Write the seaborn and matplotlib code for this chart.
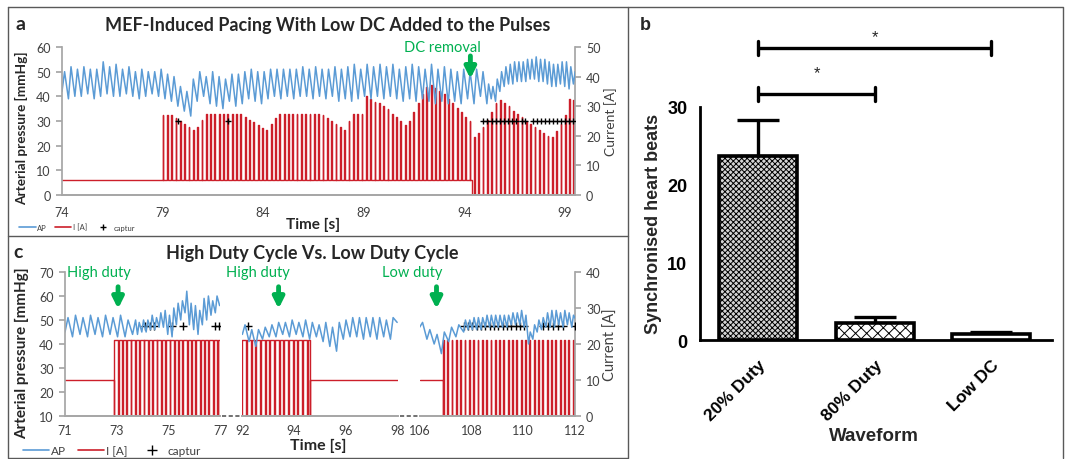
import matplotlib

matplotlib.use("Agg")
import matplotlib.pyplot as plt
import numpy as np
import pandas as pd
import seaborn as sns
from matplotlib.lines import Line2D


W, H = 1068, 460
BLUE = "#5b9bd5"
RED = "#cc1f2a"
GREEN = "#00b050"
GREY_AX = "#a6a6a6"
TXT = "#404040"

# ---- panel a: AP (mmHg) as trough/peak per beat ----
A1_START, A1_PERIOD = 74.0, 0.32
A1_TROUGH = [42, 39, 40, 40, 41, 39, 40, 41, 40, 40, 41, 40, 39, 40, 41, 40, 39, 38, 36, 34,
             32, 38, 40, 37, 36, 35, 38, 36, 37, 39, 38, 37, 39, 40, 39, 40, 39, 40, 40, 39,
             40, 39, 40, 38, 39, 38, 39, 40, 39, 40, 39, 40, 39, 38, 39, 38, 39, 38, 37, 38,
             37, 38, 37, 39, 37, 40]
A1_PEAK = [50, 52, 51, 52, 51, 51, 54, 52, 53, 51, 52, 50, 51, 50, 50, 51, 49, 48, 44, 42,
           47, 50, 48, 50, 48, 47, 49, 49, 50, 51, 50, 50, 51, 51, 51, 51, 51, 52, 51, 52,
           51, 51, 52, 51, 52, 53, 51, 53, 52, 53, 52, 53, 51, 52, 53, 52, 51, 53, 51, 52,
           51, 50, 51, 50, 51, 50]
A2_START, A2_PERIOD = 95.12, 0.215
A2_TROUGH = [37, 39, 38, 42, 44, 45, 45, 46, 46, 46, 47, 47, 46, 46, 45, 44, 44, 45, 44, 43, 45]
A2_PEAK = [45, 44, 47, 50, 52, 53, 54, 54, 54, 55, 55, 56, 55, 55, 54, 53, 53, 54, 54, 52, 50]

# ---- panel a: current pulses (A) ----
PULSE_START, PULSE_PERIOD, PULSE_W = 79.0, 0.215, 0.04
DC_LEVEL, DC_OFF = 5.0, 94.4
DC_AMP = [27, 27, 27, 26, 25, 24, 23, 22, 23, 25.5, 27.5, 27.5, 27.5, 27.5, 27.5, 27.5, 27.5,
          27.5, 27.5, 26.5, 25.5, 24.5, 23.5, 22.5, 22, 24, 26, 27.5, 27.5, 27.5, 27.5, 27.5,
          27.5, 27.5, 27.5, 27.5, 27.5, 27, 26, 25, 24, 23, 22, 25, 27.5, 27.5, 27.5, 33.5,
          32.5, 31.5, 31, 30, 29, 27.5, 26.5, 25, 23.5, 25, 28, 31, 34, 36.5, 37, 36, 35, 34,
          32.5, 31, 29.5, 28, 26.5, 25]
NODC_AMP = [19.5, 21, 23, 25.5, 28, 31, 32, 31, 30, 28.5, 27.5, 26.5, 25, 24, 23, 22, 21, 20,
            19.5, 21.5, 24, 27, 32.5, 32]
CAPTURE_A = [79.75, 82.27, 94.95, 95.15, 95.35, 95.55, 95.75, 95.95, 96.15, 96.35, 96.55,
             96.85, 97.0, 97.4, 97.6, 97.8, 98.0, 98.2, 98.4, 98.6, 98.8, 99.0, 99.2, 99.4]
CAPTURE_LEVEL = 25

# ---- panel c ----
SEGMENTS = [(71, 77), (92, 98), (106, 112)]
SEG_TICKS = [[71, 73, 75, 77], [92, 94, 96, 98], [106, 108, 110, 112]]
C_AP = [
    [(71.0, 0.29, [45, 43, 44, 43, 44, 43, 44, 43, 43, 44], [51, 52, 51, 52, 51, 52, 51, 52, 50, 50], None),
     (73.8, 0.167, [44, 45, 45, 46, 46, 47, 47, 44, 43, 48, 50, 53, 48, 46, 44, 48, 50, 52, 53],
      [49, 50, 50, 52, 51, 53, 54, 52, 55, 57, 58, 62, 57, 56, 54, 59, 60, 58, 60], 56)],
    [(92.0, 0.26, [44, 41, 39, 42, 43, 43, 44, 43, 44, 43, 42, 43, 41, 39, 37, 42, 43, 43, 42, 43, 42, 43, 42],
      [48, 46, 46, 47, 48, 49, 49, 50, 49, 50, 49, 48, 49, 47, 49, 50, 51, 51, 51, 51, 51, 50, 51], 49)],
    [(106.0, 0.28, [47, 42, 40, 36, 41, 43], [49, 46, 44, 45, 47, 48], None),
     (107.7, 0.167, [45, 46, 46, 46, 46, 47, 47, 47, 47, 47, 47, 48, 48, 48, 47, 40, 42, 45, 46, 47,
                     47, 47, 48, 47, 48, 47],
      [50, 50, 51, 51, 51, 52, 52, 52, 52, 52, 52, 53, 53, 54, 52, 45, 48, 50, 51, 53, 54, 54, 53,
       54, 53, 52], 50)],
]
# (baseline end, pulse on, pulse off, period, duty)
C_BASE, C_HIGH = 10, 21
C_PULSES = [(72.9, 72.9, 77.0, 0.167, 0.8), (92.0, 92.0, 94.6, 0.18, 0.8), (106.9, 106.9, 112.0, 0.167, 0.2)]
CAPTURE_C = [[74.1, 74.27, 74.43, 75.14, 75.54, 76.8, 76.93], [92.22],
             [107.7, 107.87, 108.03, 108.2, 108.37, 108.54, 108.7, 108.87, 109.04, 109.2, 109.37,
              109.54, 109.71, 109.87, 110.04, 110.75, 110.95, 111.15, 111.35, 111.55, 112.0]]
C_ARROWS = [(73.05, 72.3, "High duty"), (93.4, 92.6, "High duty"), (106.65, 105.7, "Low duty")]

# ---- panel b ----
WAVEFORMS = ["20% Duty", "80% Duty", "Low DC"]
BEATS_MEAN = [23.7, 2.2, 0.75]
BEATS_SEM = [4.6, 0.7, 0.3]
SIG_PAIRS = [(0, 1), (0, 2)]
SIG_Y = [31.7, 37.6]
STAR_Y = [34.4, 39.0]


def ap_trace(start, period, troughs, peaks, end_value=None):
    t, v = [], []
    for i, (lo, hi) in enumerate(zip(troughs, peaks)):
        t0 = start + i * period
        t += [t0, t0 + 0.4 * period]
        v += [lo, hi]
    if end_value is not None:
        t.append(start + len(troughs) * period)
        v.append(end_value)
    return t, v


def duty_wave(t_on, t_off, period, duty, high, low=0.0):
    xs, ys = [], []
    t = t_on
    while t < t_off - 1e-9:
        t_mid = min(t + duty * period, t_off)
        t_end = min(t + period, t_off)
        xs += [t, t, t_mid, t_mid, t_end]
        ys += [low, high, high, low, low]
        t += period
    return xs, ys


def fx(px):
    return px / W


def fy(py):
    return 1 - py / H


def style_excel(ax, left=True, right=False, xpad=8):
    for side in ["top", "left", "right", "bottom"]:
        ax.spines[side].set_visible(False)
    ax.spines["bottom"].set_visible(True)
    ax.spines["bottom"].set_color(GREY_AX)
    if left:
        ax.spines["left"].set_visible(True)
        ax.spines["left"].set_color(GREY_AX)
    if right:
        ax.spines["right"].set_visible(True)
        ax.spines["right"].set_color(GREY_AX)
    ax.tick_params(axis="y", length=4, color=GREY_AX, labelsize=9, labelcolor=TXT, pad=4)
    ax.tick_params(axis="x", length=0, labelsize=9, labelcolor=TXT, pad=xpad)
    ax.set_xlabel("")
    ax.set_ylabel("")


def add_legend(x, y, size):
    handles = [Line2D([], [], color=BLUE, lw=1.2), Line2D([], [], color=RED, lw=1.2),
               Line2D([], [], color="black", marker="+", ls="", ms=size * 0.8, mew=1)]
    fig.legend(handles, ["AP", "I [A]", "captur"], loc="center left", bbox_to_anchor=(x, y),
               ncol=3, frameon=False, fontsize=size, handlelength=2.2, handletextpad=0.2,
               columnspacing=1.0, labelcolor=TXT)


sns.set_theme(style="white")
plt.rcParams["font.family"] = ["Lato", "DejaVu Sans"]
plt.rcParams["hatch.linewidth"] = 0.7

fig = plt.figure(figsize=(W / 100, H / 100), dpi=100)

# ================= panel a =================
ax_a = fig.add_axes([fx(62), fy(196), (575 - 62) / W, (196 - 48) / H])
ax_a2 = ax_a.twinx()

t1, v1 = ap_trace(A1_START, A1_PERIOD, A1_TROUGH, A1_PEAK)
t2, v2 = ap_trace(A2_START, A2_PERIOD, A2_TROUGH, A2_PEAK)
sns.lineplot(x=t1 + t2, y=v1 + v2, sort=False, estimator=None, color=BLUE, lw=1.1, ax=ax_a)

cx, cy = [74.0], [DC_LEVEL]
for i, amp in enumerate(DC_AMP):
    t = PULSE_START + i * PULSE_PERIOD
    cx += [t, t, t + PULSE_W, t + PULSE_W]
    cy += [DC_LEVEL, amp, amp, DC_LEVEL]
cx += [DC_OFF, DC_OFF]
cy += [DC_LEVEL, 0]
for j, amp in enumerate(NODC_AMP):
    t = PULSE_START + (len(DC_AMP) + j) * PULSE_PERIOD
    cx += [t, t, t + PULSE_W, t + PULSE_W]
    cy += [0, amp, amp, 0]
sns.lineplot(x=cx, y=cy, sort=False, estimator=None, color=RED, lw=1.0, ax=ax_a2)
sns.scatterplot(x=CAPTURE_A, y=[CAPTURE_LEVEL] * len(CAPTURE_A), marker="+", color="black",
                s=22, linewidth=1.0, ax=ax_a2, zorder=5)

ax_a.set_xlim(74, 99.5)
ax_a.set_ylim(0, 60)
ax_a2.set_ylim(0, 50)
ax_a.set_xticks([74, 79, 84, 89, 94, 99])
ax_a.set_yticks(range(0, 61, 10))
ax_a2.set_yticks(range(0, 51, 10))
style_excel(ax_a, left=True)
style_excel(ax_a2, left=False, right=True)
ax_a.set_zorder(ax_a2.get_zorder() + 1)
ax_a.patch.set_visible(False)

ax_a.annotate("", xy=(94.3, 46), xytext=(94.3, 57.5), xycoords="data",
              arrowprops=dict(arrowstyle="-|>", color=GREEN, lw=3.5, mutation_scale=16))
ax_a.text(94.3 - 1.4, 60, "DC removal", color=GREEN, fontsize=10.5, ha="center", va="center")

fig.text(fx(20), fy(25), "a", fontsize=14, fontweight="bold", ha="center", va="center")
fig.text(fx(328), fy(26), "MEF-Induced Pacing With Low DC Added to the Pulses", fontsize=13,
         fontweight="bold", ha="center", va="center")
fig.text(fx(22), fy(128), "Arterial pressure [mmHg]", rotation=90, fontsize=9.8,
         fontweight="bold", ha="center", va="center")
fig.text(fx(611), fy(122), "Current [A]", rotation=90, fontsize=10, ha="center", va="center",
         color=TXT)
fig.text(fx(313), fy(225), "Time [s]", fontsize=11, fontweight="bold", ha="center", va="center")
add_legend(fx(12), fy(228), 5.5)

# ================= panel c =================
seg_w = (575 - 65 - 44) / 3
for k, (lo, hi) in enumerate(SEGMENTS):
    left = 65 + k * (seg_w + 22)
    ax = fig.add_axes([fx(left), fy(417), seg_w / W, (417 - 273) / H])
    ax2 = ax.twinx()
    tt, vv = [], []
    for start, period, trough, peak, end in C_AP[k]:
        t_, v_ = ap_trace(start, period, trough, peak, end)
        tt += t_
        vv += v_
    sns.lineplot(x=tt, y=vv, sort=False, estimator=None, color=BLUE, lw=1.1, ax=ax)

    base_end, p_on, p_off, period, duty = C_PULSES[k]
    wx, wy = duty_wave(p_on, p_off, period, duty, C_HIGH)
    if k == 1:
        wx += [p_off, p_off, hi]
        wy += [0, C_BASE, C_BASE]
    else:
        wx = [lo, base_end] + wx
        wy = [C_BASE, C_BASE] + wy
    sns.lineplot(x=wx, y=wy, sort=False, estimator=None, color=RED, lw=1.0, ax=ax2)
    sns.scatterplot(x=CAPTURE_C[k], y=[CAPTURE_LEVEL] * len(CAPTURE_C[k]), marker="+",
                    color="black", s=30, linewidth=1.0, ax=ax2, zorder=5)

    ax.set_xlim(lo, hi)
    ax.set_ylim(10, 70)
    ax2.set_ylim(0, 40)
    ax.set_xticks(SEG_TICKS[k])
    ax.set_yticks(range(10, 71, 10))
    ax2.set_yticks(range(0, 41, 10))
    style_excel(ax, left=(k == 0), xpad=6)
    style_excel(ax2, left=False, right=(k == 2), xpad=6)
    if k != 0:
        ax.set_yticklabels([])
        ax.tick_params(axis="y", length=0)
    if k != 2:
        ax2.set_yticklabels([])
        ax2.tick_params(axis="y", length=0)
    ax.set_zorder(ax2.get_zorder() + 1)
    ax.patch.set_visible(False)

    arrow_x, text_x, label = C_ARROWS[k]
    ax.annotate("", xy=(arrow_x, 53.5), xytext=(arrow_x, 65),
                arrowprops=dict(arrowstyle="-|>", color=GREEN, lw=3.5, mutation_scale=16))
    ax.text(text_x, 70, label, color=GREEN, fontsize=10.5, ha="center", va="center", clip_on=False)

for k in range(2):
    x0 = 65 + (k + 1) * seg_w + k * 22
    fig.add_artist(Line2D([fx(x0 + 2), fx(x0 + 20)], [fy(417), fy(417)], color="#595959",
                          lw=1.2, ls=(0, (2.5, 1.5))))

fig.text(fx(18), fy(253), "c", fontsize=14, fontweight="bold", ha="center", va="center")
fig.text(fx(312), fy(253), "High Duty Cycle Vs. Low Duty Cycle", fontsize=13,
         fontweight="bold", ha="center", va="center")
fig.text(fx(22), fy(353), "Arterial pressure [mmHg]", rotation=90, fontsize=11,
         fontweight="bold", ha="center", va="center")
fig.text(fx(611), fy(345), "Current [A]", rotation=90, fontsize=10.5, ha="center", va="center",
         color=TXT)
fig.text(fx(318), fy(446), "Time [s]", fontsize=11.5, fontweight="bold", ha="center", va="center")
add_legend(fx(12), fy(452), 8.5)

# ================= panel b =================
ax_b = fig.add_axes([fx(700), fy(341), 352 / W, (341 - 108) / H])
df_b = pd.DataFrame({"Waveform": WAVEFORMS, "beats": BEATS_MEAN})
sns.barplot(data=df_b, x="Waveform", y="beats", width=0.67, errorbar=None, color="white",
            edgecolor="black", linewidth=2.6, ax=ax_b, zorder=3)
hatches = ["xxxxxx", "xxx", ""]
faces = ["#d4d4d4", "white", "white"]
for bar, hatch, face in zip(ax_b.patches, hatches, faces):
    bar.set_hatch(hatch)
    bar.set_facecolor(face)
ax_b.errorbar(range(len(WAVEFORMS)), BEATS_MEAN,
              yerr=[[0] * len(BEATS_SEM), BEATS_SEM], fmt="none", ecolor="black",
              elinewidth=2.4, capsize=15, capthick=2.4, zorder=2)
for (i, j), y, ys in zip(SIG_PAIRS, SIG_Y, STAR_Y):
    ax_b.plot([i, j], [y, y], color="black", lw=2.4, clip_on=False, solid_capstyle="butt")
    for e in (i, j):
        ax_b.plot([e, e], [y - 0.9, y + 0.9], color="black", lw=2.4, clip_on=False)
    ax_b.text((i + j) / 2, ys, "*", ha="center", va="center", fontsize=12,
              family="Liberation Sans")

ax_b.set_xlim(-0.5, 2.52)
ax_b.set_ylim(0, 30)
ax_b.set_yticks([0, 10, 20, 30])
for side in ["top", "right"]:
    ax_b.spines[side].set_visible(False)
for side in ["left", "bottom"]:
    ax_b.spines[side].set_color("black")
    ax_b.spines[side].set_linewidth(2)
ax_b.tick_params(axis="y", length=7, width=2, color="black", labelsize=13, pad=2)
ax_b.tick_params(axis="x", length=9, width=2, color="black", labelsize=12.5, pad=3)
ax_b.set_xlabel("")
ax_b.set_ylabel("")
for lab in ax_b.get_yticklabels() + ax_b.get_xticklabels():
    lab.set_fontfamily("Liberation Sans")
    lab.set_fontweight("bold")
    lab.set_color("black")
for lab in ax_b.get_xticklabels():
    lab.set_rotation(45)
    lab.set_ha("right")
    lab.set_rotation_mode("anchor")
fig.text(fx(653), fy(224), "Synchronised heart beats", rotation=90, fontsize=13,
         fontweight="bold", family="Liberation Sans", ha="center", va="center")
fig.text(fx(874), fy(437), "Waveform", fontsize=13.5, fontweight="bold",
         family="Liberation Sans", ha="center", va="center")
fig.text(fx(645), fy(26), "b", fontsize=13, fontweight="bold", family="Liberation Sans",
         ha="center", va="center")

# panel frames
frame = dict(color="#595959", lw=1.0)
fig.add_artist(Line2D([fx(8), fx(628), fx(628), fx(8), fx(8)],
                      [fy(8), fy(8), fy(459), fy(459), fy(8)], **frame))
fig.add_artist(Line2D([fx(8), fx(628)], [fy(237), fy(237)], **frame))
fig.add_artist(Line2D([fx(628), fx(1063), fx(1063)], [fy(8), fy(8), fy(459)], **frame))

fig.savefig("out.png", dpi=100, facecolor="white")
